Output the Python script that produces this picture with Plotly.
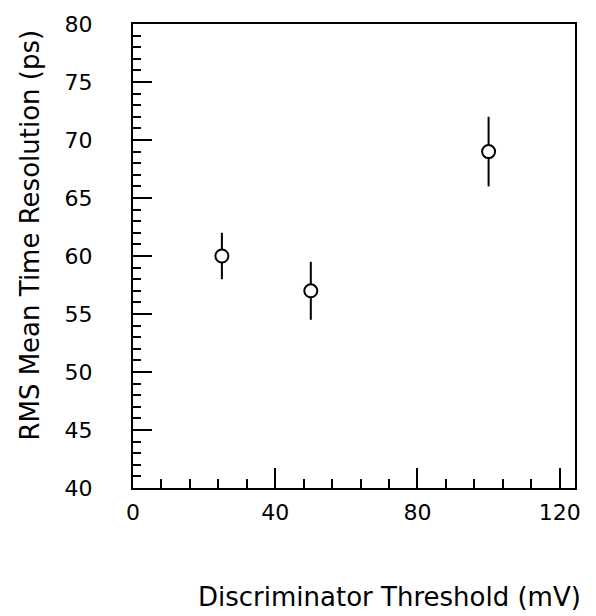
import plotly.graph_objects as go

# Measured RMS mean time resolution versus discriminator threshold
threshold_mv = [25, 50, 100]
resolution_ps = [60, 57, 69]
resolution_err = [2.0, 2.5, 3.0]

x_tick_vals = [0, 40, 80, 120]
y_tick_vals = [40, 45, 50, 55, 60, 65, 70, 75, 80]

font_family = "DejaVu Sans, Liberation Sans, sans-serif"

fig = go.Figure()
fig.add_trace(go.Scatter(
    x=threshold_mv,
    y=resolution_ps,
    mode="markers",
    marker=dict(symbol="circle", size=13, color="white",
                line=dict(color="black", width=2)),
    error_y=dict(type="data", array=resolution_err, visible=True,
                 color="black", thickness=2, width=0),
    showlegend=False,
))

axis_common = dict(
    showgrid=False, zeroline=False,
    showline=True, linecolor="black", linewidth=2, mirror=True,
    ticks="inside", tickcolor="black", tickwidth=2,
    tickfont=dict(family=font_family, size=22, color="black"),
)

fig.update_xaxes(
    range=[0, 124.3],
    tickmode="array", tickvals=x_tick_vals, ticklen=20,
    ticklabelstandoff=4,
    minor=dict(dtick=8, tick0=0, ticks="inside", ticklen=9,
               tickwidth=2, tickcolor="black", showgrid=False),
    **axis_common,
)
fig.update_yaxes(
    range=[40, 80],
    tickmode="array", tickvals=y_tick_vals, ticklen=19,
    ticklabelstandoff=34,
    minor=dict(dtick=1, tick0=40, ticks="inside", ticklen=8,
               tickwidth=2, tickcolor="black", showgrid=False),
    **axis_common,
)

fig.add_annotation(
    text="RMS Mean Time Resolution (ps)",
    xref="paper", yref="paper", x=-0.232, y=0.545,
    xanchor="center", yanchor="middle",
    textangle=-90, showarrow=False,
    font=dict(family=font_family, size=26, color="black"),
)
fig.add_annotation(
    text="Discriminator Threshold (mV)",
    xref="paper", yref="paper", x=0.58, y=-0.235,
    xanchor="center", yanchor="middle",
    showarrow=False,
    font=dict(family=font_family, size=26, color="black"),
)

fig.update_layout(
    width=596, height=616,
    margin=dict(l=133, r=21, t=20, b=128),
    plot_bgcolor="white", paper_bgcolor="white",
)

fig.write_html("out.html")
